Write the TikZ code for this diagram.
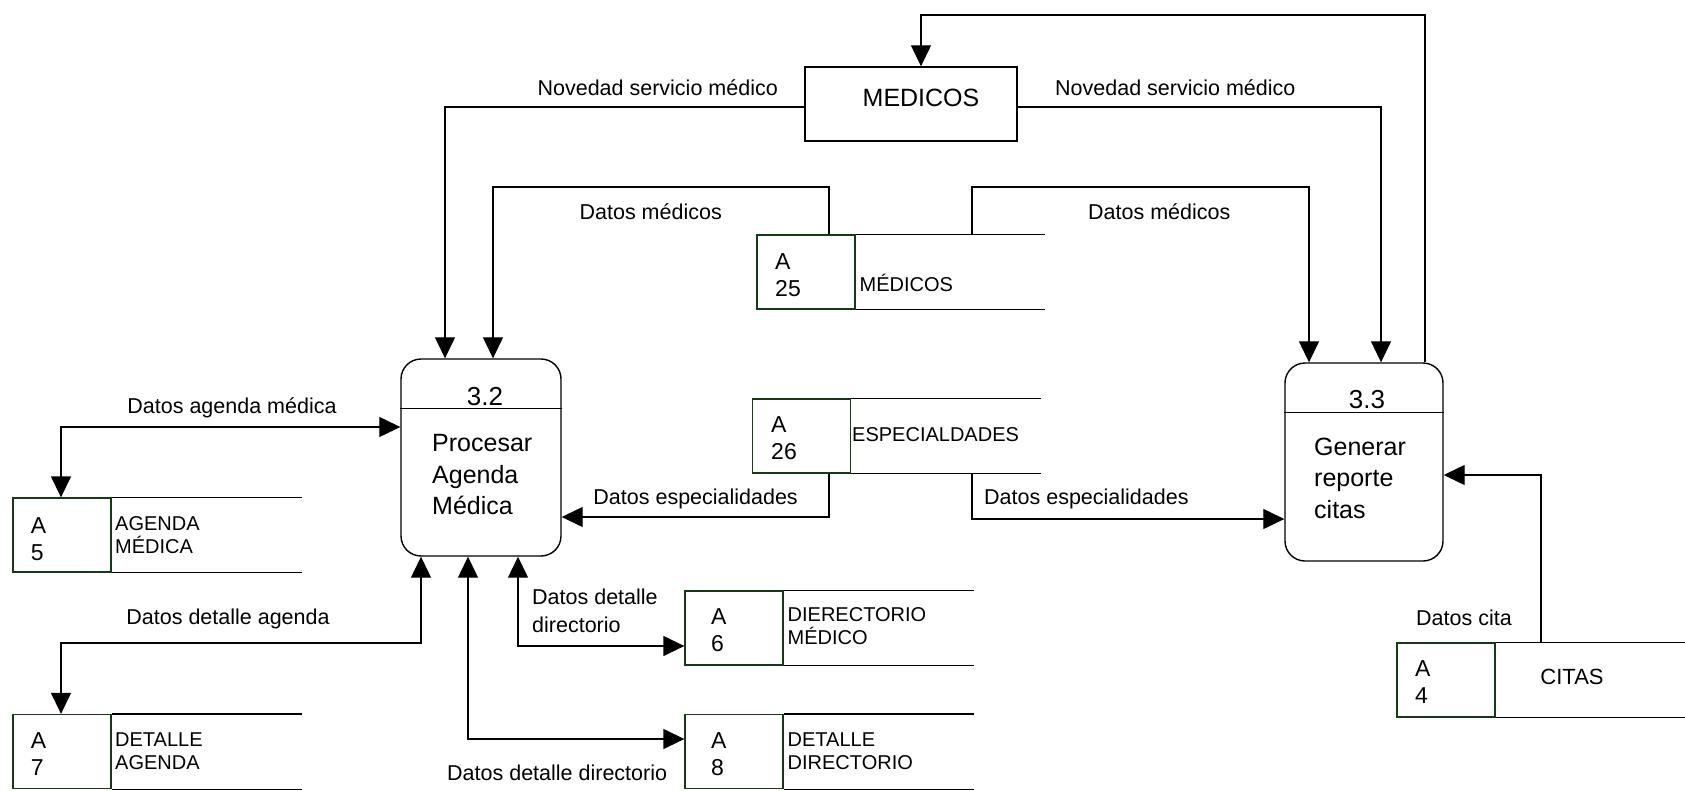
\documentclass[tikz,border=0pt]{standalone}
\usepackage{fontspec}
\setmainfont{Liberation Sans}
\usetikzlibrary{arrows.meta}
\definecolor{idgreen}{RGB}{20,60,20}

\tikzset{
  >={Triangle[length=21pt,width=20pt]},
  flow/.style={line width=1.3pt, draw=black},
  proc/.style={draw, line width=1.4pt, rounded corners=20pt, inner sep=0pt},
  extbox/.style={draw, line width=1.4pt, inner sep=0pt},
  idbox/.style={draw=idgreen, line width=1.3pt, minimum width=98pt, minimum height=74pt, inner sep=0pt},
  idtxt/.style={font=\fontsize{23}{27}\selectfont, align=left, inner sep=0pt, anchor=west},
  stlbl/.style={font=\fontsize{20}{23}\selectfont, align=left, inner sep=0pt, anchor=west},
  proctxt/.style={font=\fontsize{25}{31.5}\selectfont, align=left, inner sep=0pt, anchor=west},
  numtxt/.style={font=\fontsize{26}{30}\selectfont, inner sep=0pt},
  lbl/.style={font=\fontsize{21.5}{28}\selectfont, inner sep=0pt, align=left}
}

\begin{document}
\begin{tikzpicture}[x=1pt,y=-1pt]
\useasboundingbox (0,0) rectangle (1685,790);

% ---------- processes ----------
\node[proc, minimum width=160pt, minimum height=197pt] (p32) at (481,457.5) {};
\draw[flow] ([yshift=-50pt]p32.north west) -- ([yshift=-50pt]p32.north east);
\node[numtxt] (n32) at (485,397) {3.2};
\node[proctxt] (t32) at (432,475) {Procesar\\Agenda\\Médica};

\node[proc, minimum width=158pt, minimum height=198pt] (p33) at (1364,462) {};
\draw[flow] ([yshift=-50pt]p33.north west) -- ([yshift=-50pt]p33.north east);
\node[numtxt] (n33) at (1367,400) {3.3};
\node[proctxt] (t33) at (1314,478) {Generar\\reporte\\citas};

% ---------- external entity ----------
\node[extbox, minimum width=212pt, minimum height=74pt] (medicos) at (911,104) {};
\node[font=\fontsize{25}{30}\selectfont, inner sep=0pt] (medtxt) at (921,98) {MEDICOS};

% ---------- data stores ----------
\node[idbox] (a25) at (806,272) {};
\node[idtxt] (a25id) at (775,275.5) {A\\25};
\node[stlbl] (a25lb) at (859.5,283) {MÉDICOS};
\draw[flow] (a25.north east) -- ++(189,0);
\draw[flow] (a25.south east) -- ++(189,0);

\node[idbox] (a26) at (801.5,436) {};
\node[idtxt] (a26id) at (771,438.5) {A\\26};
\node[stlbl] (a26lb) at (852,435) {ESPECIALDADES};
\draw[flow] (a26.north east) -- ++(190,0);
\draw[flow] (a26.south east) -- ++(190,0);

\node[idbox] (a5) at (62,535) {};
\node[idtxt] (a5id) at (30.6,539.5) {A\\5};
\node[stlbl] (a5lb) at (115,535.5) {AGENDA\\MÉDICA};
\draw[flow] (a5.north east) -- ++(190,0);
\draw[flow] (a5.south east) -- ++(190,0);

\node[idbox] (a7) at (62,751.5) {};
\node[idtxt] (a7id) at (30.6,754) {A\\7};
\node[stlbl] (a7lb) at (115,751.5) {DETALLE\\AGENDA};
\draw[flow] (a7.north east) -- ++(190,0);
\draw[flow] (a7.south east) -- ++(190,0);

\node[idbox] (a6) at (734,628) {};
\node[idtxt] (a6id) at (711,630.5) {A\\6};
\node[stlbl] (a6lb) at (787.5,626) {DIERECTORIO\\MÉDICO};
\draw[flow] (a6.north east) -- ++(190,0);
\draw[flow] (a6.south east) -- ++(190,0);

\node[idbox] (a8) at (734,751.5) {};
\node[idtxt] (a8id) at (711,754.5) {A\\8};
\node[stlbl] (a8lb) at (787.5,751.5) {DETALLE\\DIRECTORIO};
\draw[flow] (a8.north east) -- ++(190,0);
\draw[flow] (a8.south east) -- ++(190,0);

\node[idbox] (a4) at (1446,680) {};
\node[idtxt] (a4id) at (1415,682.5) {A\\4};
\node[font=\fontsize{22}{26}\selectfont, inner sep=0pt] (a4lb) at (1572,677) {CITAS};
\draw[flow] (a4.north east) -- ++(190,0);
\draw[flow] (a4.south east) -- ++(190,0);

% ---------- bend points ----------
\coordinate (c1) at (445,107);
\coordinate (c2) at (1381,107);
\coordinate (c3) at (1425,15);
\coordinate (c4) at (921,15);
\coordinate (c5) at (829,187);
\coordinate (c6) at (493,187);
\coordinate (c7) at (972,187);
\coordinate (c8) at (1309,187);
\coordinate (c9) at (829,517);
\coordinate (c10) at (972,519);
\coordinate (c11) at (61,427);
\coordinate (c12) at (61,643);
\coordinate (c13) at (421,643);
\coordinate (c14) at (518,646);
\coordinate (c15) at (468,739);
\coordinate (c16) at (1541,475);

% ---------- data flows ----------
\draw[flow,->] (medicos.west |- c1) -- (c1) -- (c1 |- p32.north);
\draw[flow,->] (medicos.east |- c2) -- (c2) -- (c2 |- p33.north);
\draw[flow,->] (c3 |- p33.north) -- (c3) -- (c4) -- (c4 |- medicos.north);
\draw[flow,->] (c5 |- a25.north) -- (c5) -- (c6) -- (c6 |- p32.north);
\draw[flow,->] (c7 |- a25.north) -- (c7) -- (c8) -- (c8 |- p33.north);
\draw[flow,->] (c9 |- a26.south) -- (c9) -- (c9 -| p32.east);
\draw[flow,->] (c10 |- a26.south) -- (c10) -- (c10 -| p33.west);
\draw[flow,<->] (c11 |- a5.north) -- (c11) -- (c11 -| p32.west);
\draw[flow,<->] (c12 |- a7.north) -- (c12) -- (c13) -- (c13 |- p32.south);
\draw[flow,<->] (c14 |- p32.south) -- (c14) -- (c14 -| a6.west);
\draw[flow,<->] (c15 |- p32.south) -- (c15) -- (c15 -| a8.west);
\draw[flow,->] (c16 |- a4.north) -- (c16) -- (c16 -| p33.east);

% ---------- flow labels ----------
\node[lbl, anchor=east] (l1) at (778,88) {Novedad servicio médico};
\node[lbl, anchor=west] (l2) at (1055,88) {Novedad servicio médico};
\node[lbl, anchor=east] (l3) at (722,212) {Datos médicos};
\node[lbl, anchor=west] (l4) at (1088,212) {Datos médicos};
\node[lbl] (l5) at (232,408) {Datos agenda médica};
\node[lbl, anchor=east] (l6) at (798,499) {Datos especialidades};
\node[lbl, anchor=west] (l7) at (984,499) {Datos especialidades};
\node[lbl] (l8) at (228,619) {Datos detalle agenda};
\node[lbl, anchor=west] (l9) at (532,611) {Datos detalle\\directorio};
\node[lbl, anchor=west] (l10) at (447,773) {Datos detalle directorio};
\node[lbl, anchor=west] (l11) at (1416,618) {Datos cita};

\end{tikzpicture}
\end{document}
